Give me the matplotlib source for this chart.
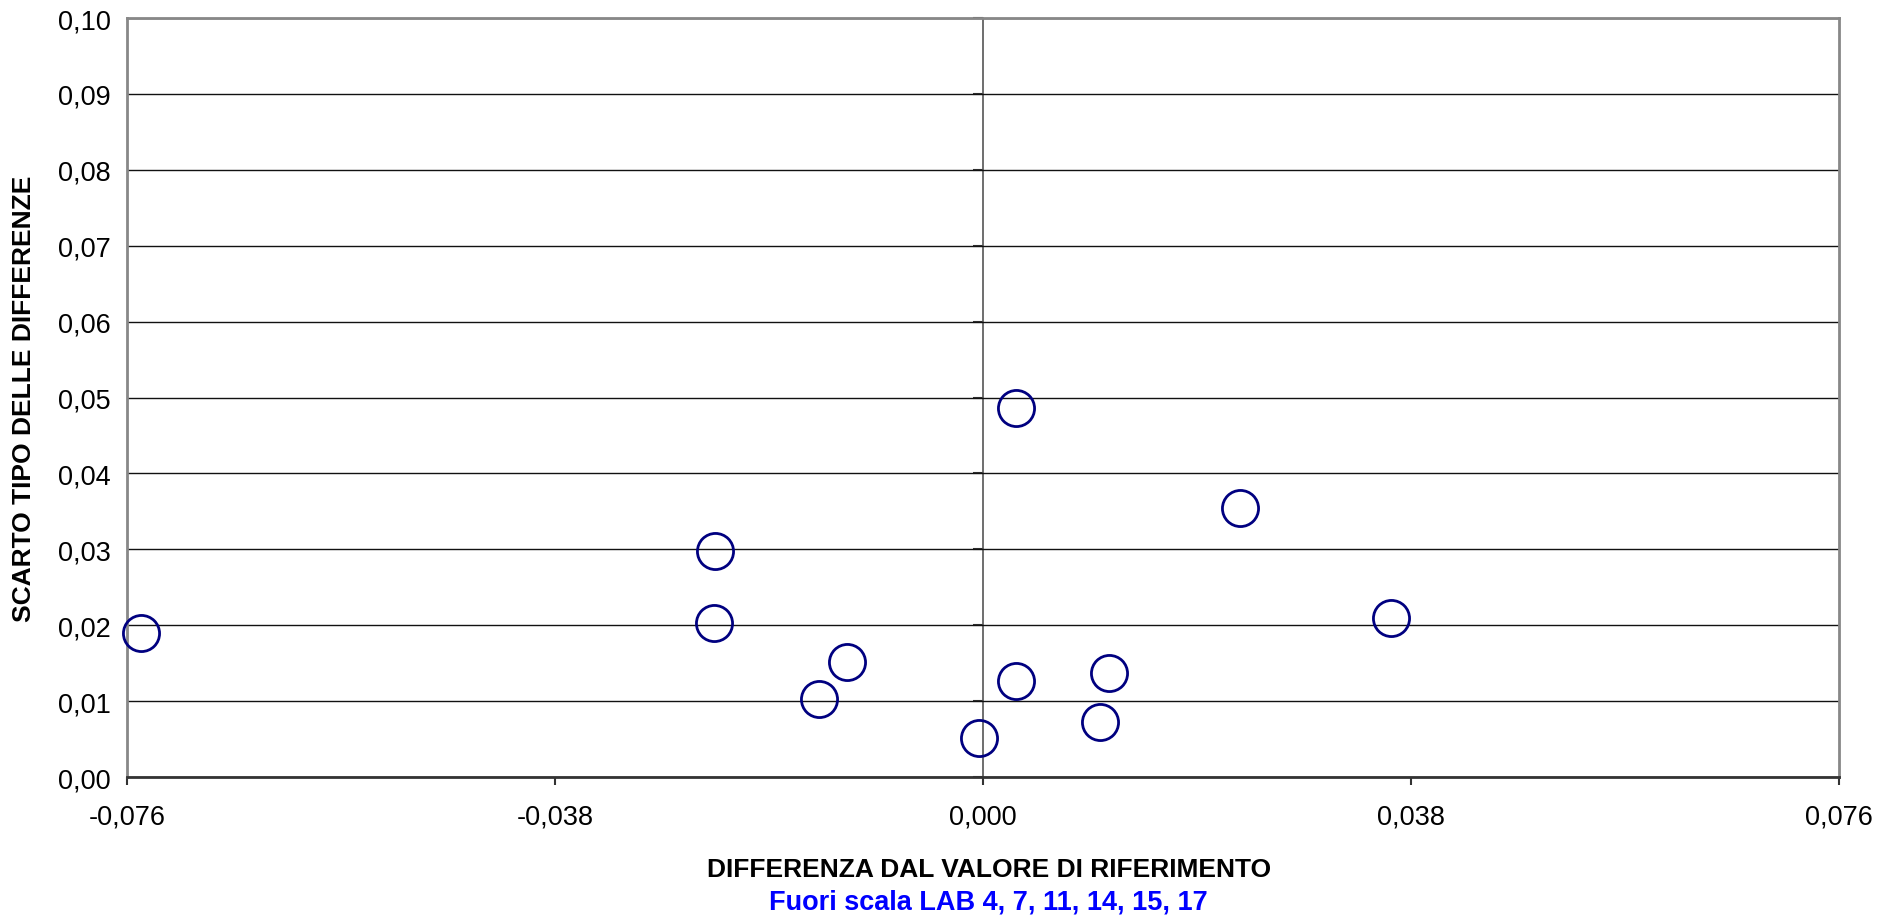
import matplotlib
matplotlib.use("Agg")
import matplotlib.pyplot as plt
from matplotlib.ticker import FuncFormatter

plt.rcParams['font.family'] = ['Liberation Sans', 'DejaVu Sans']

# dati
diff_rif = [-0.0748, -0.0238, -0.0239, -0.0121, -0.0146, -0.0004,
            0.0029, 0.0029, 0.0112, 0.0104, 0.0228, 0.0362]
scarto = [0.0190, 0.0298, 0.0203, 0.0152, 0.0103, 0.0051,
          0.0486, 0.0127, 0.0137, 0.0072, 0.0354, 0.0210]

x_ticks = [-0.076, -0.038, 0.0, 0.038, 0.076]
y_ticks = [0.00, 0.01, 0.02, 0.03, 0.04, 0.05, 0.06, 0.07, 0.08, 0.09, 0.10]

fig = plt.figure(figsize=(18.94, 9.2), dpi=100)
ax = fig.add_axes([0.0671, 0.1543, 0.9039, 0.825])

ax.plot(diff_rif, scarto, linestyle='none', marker='o', markersize=26,
        markerfacecolor='none', markeredgecolor='#000080', markeredgewidth=2,
        zorder=5, clip_on=False)

ax.set_xlim(-0.076, 0.076)
ax.set_ylim(0, 0.10)
ax.set_xticks(x_ticks)
ax.set_yticks(y_ticks)
ax.xaxis.set_major_formatter(FuncFormatter(lambda v, p: f"{v:.3f}".replace('.', ',').replace('-0,000', '0,000')))
ax.yaxis.set_major_formatter(FuncFormatter(lambda v, p: f"{v:.2f}".replace('.', ',')))

ax.grid(axis='y', color='#111111', linewidth=1.0)
ax.set_axisbelow(True)

for s in ['left', 'top', 'right']:
    ax.spines[s].set_color('#888888')
    ax.spines[s].set_linewidth(2)
ax.spines['bottom'].set_color('#333333')
ax.spines['bottom'].set_linewidth(2)

ax.tick_params(axis='y', length=0, pad=12, labelsize=19.5)
ax.tick_params(axis='x', length=6, width=1.5, color='#333333', pad=13, labelsize=19.5)

# asse verticale a x = 0 con tacche verso sinistra
sec = ax.secondary_yaxis(0.5)
sec.set_yticks(y_ticks)
sec.tick_params(axis='y', direction='in', length=7, width=1.5, color='#333333',
                labelleft=False, labelright=False)
for s in sec.spines.values():
    s.set_color('#555555')
    s.set_linewidth(1.2)

fig.text(0.0125, 0.5663, "SCARTO TIPO DELLE DIFFERENZE", fontsize=19, fontweight='bold',
         rotation=90, ha='center', va='center')
fig.text(0.522, 0.0543, "DIFFERENZA DAL VALORE DI RIFERIMENTO", fontsize=19, fontweight='bold',
         ha='center', va='center')
fig.text(0.522, 0.0195, "Fuori scala LAB 4, 7, 11, 14, 15, 17", fontsize=19.5, fontweight='bold',
         color='#0000FF', ha='center', va='center')

fig.savefig("out.png", dpi=100)
